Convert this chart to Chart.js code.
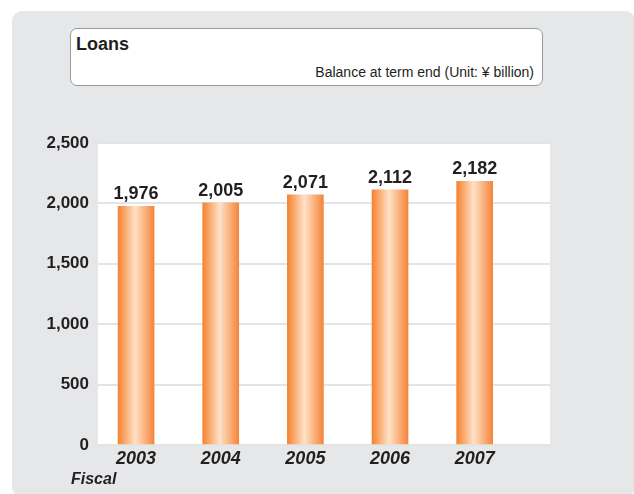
<!DOCTYPE html>
<html>
<head>
<meta charset="utf-8">
<script src="https://cdn.jsdelivr.net/npm/chart.js@4/dist/chart.umd.min.js"></script>
<style>
  body { margin: 0; background: #fff; width: 634px; height: 494px; overflow: hidden; position: relative;
         font-family: "Liberation Sans", sans-serif; color: #231f20; }
  #card { position: absolute; left: 12px; top: 11px; width: 623px; height: 486px; background: #e6e7e8; border-radius: 10px; }
  #titlebox { position: absolute; left: 70px; top: 28px; width: 471px; height: 56px; background: #fff;
              border: 1px solid #9a9a9a; border-radius: 7px; }
  #title { position: absolute; left: 5px; top: 5px; font-size: 18px; font-weight: bold; }
  #unit { position: absolute; right: 8px; top: 35px; font-size: 14px; }
  #fiscal { position: absolute; left: 71px; top: 470px; font-size: 16px; font-weight: bold; font-style: italic; }
  #wrap { position: absolute; left: 0; top: 0; width: 634px; height: 494px; }
</style>
</head>
<body>
<div id="card"></div>
<div id="titlebox"><div id="title">Loans</div><div id="unit">Balance at term end (Unit: ¥ billion)</div></div>
<div id="wrap"><canvas id="myChart"></canvas></div>
<div id="fiscal">Fiscal</div>
<script>
const years = [2003, 2004, 2005, 2006, 2007];
const loans = [1976, 2005, 2071, 2112, 2182];
const yTicks = [0, 500, 1000, 1500, 2000, 2500];

const FONT = '"Liberation Sans", sans-serif';

// horizontal "cylinder" shading, one gradient per bar
const barFill = (context) => {
    const chart = context.chart;
    if (!chart.chartArea || !context.parsed) return '#f7873a';
    const x = chart.scales.x.getPixelForValue(context.parsed.x);
    const g = chart.ctx.createLinearGradient(x - 18, 0, x + 18, 0);
    g.addColorStop(0, '#f5822f');
    g.addColorStop(0.47, '#fee2c8');
    g.addColorStop(1, '#f6853a');
    return g;
};

const whiteArea = {
    id: 'whiteArea',
    beforeDraw(chart) {
        const {ctx, chartArea: a} = chart;
        ctx.save();
        ctx.fillStyle = '#fff';
        ctx.fillRect(a.left, a.top, a.right - a.left, a.bottom - a.top);
        ctx.restore();
    }
};

const valueLabels = {
    id: 'valueLabels',
    afterDatasetsDraw(chart) {
        const ctx = chart.ctx;
        ctx.save();
        ctx.font = 'bold 18px ' + FONT;
        ctx.fillStyle = '#231f20';
        ctx.textAlign = 'center';
        ctx.textBaseline = 'alphabetic';
        chart.getDatasetMeta(0).data.forEach((bar, i) => {
            ctx.fillText(loans[i].toLocaleString('en-US'), bar.x, bar.y - 7);
        });
        ctx.restore();
    }
};

new Chart(document.getElementById('myChart'), {
    type: 'bar',
    data: {
        datasets: [{
            data: years.map((y, i) => ({x: y, y: loans[i]})),
            backgroundColor: barFill,
            barThickness: 36,
            borderWidth: 0
        }]
    },
    options: {
        responsive: true,
        maintainAspectRatio: false,
        animation: false,
        layout: {padding: {left: 0, right: 84, top: 143, bottom: 0}},
        plugins: {legend: {display: false}, tooltip: {enabled: false}},
        scales: {
            x: {
                type: 'linear',
                offset: false,
                min: 2002.55,
                max: 2007.89,
                afterBuildTicks: (scale) => { scale.ticks = years.map(v => ({value: v})); },
                afterFit: (scale) => { scale.height = 49; },
                grid: {display: false},
                border: {display: false},
                ticks: {
                    callback: (v) => String(v),
                    color: '#231f20',
                    padding: -5,
                    maxRotation: 0,
                    font: {family: FONT, size: 18, weight: 'bold', style: 'italic'}
                }
            },
            y: {
                min: 0,
                max: 2500,
                afterBuildTicks: (scale) => { scale.ticks = yTicks.map(v => ({value: v})); },
                afterFit: (scale) => { scale.width = 98; },
                grid: {color: '#e4e4e4', lineWidth: 2, drawTicks: false},
                border: {display: false},
                ticks: {
                    color: '#231f20',
                    padding: 9,
                    font: {family: FONT, size: 17, weight: 'bold'}
                }
            }
        }
    },
    plugins: [whiteArea, valueLabels]
});
</script>
</body>
</html>
